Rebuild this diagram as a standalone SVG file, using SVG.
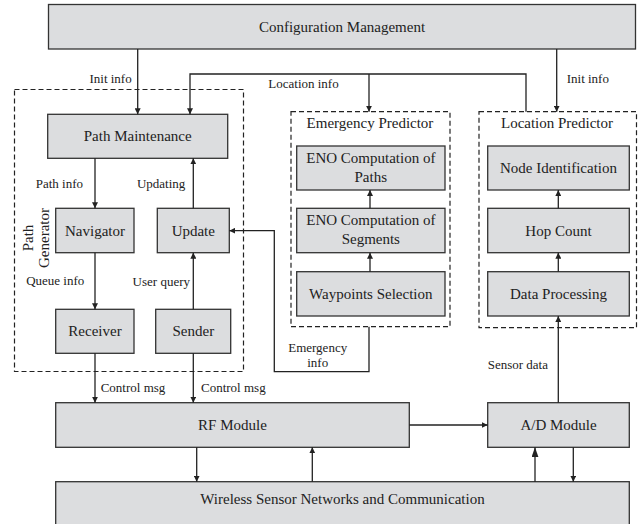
<svg xmlns="http://www.w3.org/2000/svg" width="639" height="524" viewBox="0 0 639 524">
<defs>
<marker id="ah" viewBox="0 0 10 10" refX="10" refY="5" markerWidth="6" markerHeight="6" markerUnits="userSpaceOnUse" orient="auto">
<path d="M0,0 L10,5 L0,10 z" fill="#222"/>
</marker>
<marker id="ahb" viewBox="0 0 10 10" refX="10" refY="5" markerWidth="10" markerHeight="7" markerUnits="userSpaceOnUse" orient="auto" preserveAspectRatio="none">
<path d="M0,0 L10,5 L0,10 z" fill="#222"/>
</marker>
<style>
.box{fill:#dcdddf;stroke:#333;stroke-width:1.3}
.dash{fill:none;stroke:#222;stroke-width:1.2;stroke-dasharray:5,3}
.t{font-family:"Liberation Serif","Times New Roman",serif;font-size:15px;fill:#222;text-anchor:middle}
.l{font-family:"Liberation Serif","Times New Roman",serif;font-size:13px;fill:#222}
.c{fill:none;stroke:#222;stroke-width:1.3}
.a{marker-end:url(#ah)}
</style>
</defs>
<rect width="639" height="524" fill="#fff"/>

<g id="path-generator">
<rect class="dash" x="14.5" y="89.5" width="229" height="282"/>
<text class="t" transform="translate(32.5,238) rotate(-90)">Path</text>
<text class="t" transform="translate(49,238) rotate(-90)">Generator</text>
</g>
<g id="emergency-predictor">
<rect class="dash" x="291" y="111.7" width="159" height="215"/>
<text class="t" x="370" y="128">Emergency Predictor</text>
</g>
<g id="location-predictor">
<rect class="dash" x="479" y="111.7" width="157.5" height="216"/>
<text class="t" x="557" y="128">Location Predictor</text>
</g>

<g id="config">
<rect class="box" x="48.5" y="4.5" width="587" height="44.5"/>
<text class="t" x="342" y="32">Configuration Management</text>
</g>
<g id="path-maintenance">
<rect class="box" x="47.7" y="114.3" width="180" height="44"/>
<text class="t" x="137.7" y="141">Path Maintenance</text>
</g>
<g id="navigator">
<rect class="box" x="55.7" y="208.3" width="78.3" height="44.4"/>
<text class="t" x="95" y="235.5">Navigator</text>
</g>
<g id="update">
<rect class="box" x="157.3" y="208.3" width="72" height="44.4"/>
<text class="t" x="193.3" y="235.5">Update</text>
</g>
<g id="receiver">
<rect class="box" x="55.7" y="309.3" width="78.3" height="44"/>
<text class="t" x="95" y="336">Receiver</text>
</g>
<g id="sender">
<rect class="box" x="155.7" y="309.3" width="75" height="44"/>
<text class="t" x="193.3" y="336">Sender</text>
</g>
<g id="eno-paths">
<rect class="box" x="296.7" y="146" width="148.3" height="44"/>
<text class="t" x="370.8" y="162.5">ENO Computation of</text>
<text class="t" x="370.8" y="181.5">Paths</text>
</g>
<g id="eno-segments">
<rect class="box" x="296.7" y="208.3" width="148.3" height="44.4"/>
<text class="t" x="370.8" y="225">ENO Computation of</text>
<text class="t" x="370.8" y="244">Segments</text>
</g>
<g id="waypoints">
<rect class="box" x="296.7" y="271.7" width="148.3" height="44.3"/>
<text class="t" x="370.8" y="298.5">Waypoints Selection</text>
</g>
<g id="node-identification">
<rect class="box" x="487.7" y="146" width="141.6" height="44"/>
<text class="t" x="558.5" y="172.5">Node Identification</text>
</g>
<g id="hop-count">
<rect class="box" x="487.7" y="208.3" width="141.6" height="44.4"/>
<text class="t" x="558.5" y="235.5">Hop Count</text>
</g>
<g id="data-processing">
<rect class="box" x="487.7" y="271.7" width="141.6" height="44.3"/>
<text class="t" x="558.5" y="298.5">Data Processing</text>
</g>
<g id="rf-module">
<rect class="box" x="55.7" y="402.7" width="353.6" height="44.6"/>
<text class="t" x="232.5" y="430">RF Module</text>
</g>
<g id="ad-module">
<rect class="box" x="487.7" y="402.7" width="141.6" height="44.6"/>
<text class="t" x="558.5" y="430">A/D Module</text>
</g>
<g id="wsn">
<rect class="box" x="55.7" y="481.7" width="573.6" height="46"/>
<text class="t" x="342.5" y="504">Wireless Sensor Networks and Communication</text>
</g>

<g id="connectors">
<line class="c a" x1="137.7" y1="49" x2="137.7" y2="114.3"/>
<line class="c a" x1="556.7" y1="49" x2="556.7" y2="111.7"/>
<polyline class="c a" points="526,111.7 526,74 190,74 190,114.3"/>
<line class="c a" x1="369" y1="74" x2="369" y2="111.7"/>
<line class="c a" x1="95" y1="158.3" x2="95" y2="208.3"/>
<line class="c a" x1="193.3" y1="208.3" x2="193.3" y2="158.3"/>
<line class="c a" x1="95" y1="252.7" x2="95" y2="309.3"/>
<line class="c a" x1="193.3" y1="309.3" x2="193.3" y2="252.7"/>
<polyline class="c a" points="369,326.7 369,371.7 274.3,371.7 274.3,230.7 229.3,230.7"/>
<line class="c a" x1="370" y1="208.3" x2="370" y2="190"/>
<line class="c a" x1="370" y1="271.7" x2="370" y2="252.7"/>
<line class="c a" x1="558.3" y1="208.3" x2="558.3" y2="190"/>
<line class="c a" x1="558.3" y1="271.7" x2="558.3" y2="252.7"/>
<line class="c a" x1="558.3" y1="402.7" x2="558.3" y2="316"/>
<line class="c a" x1="95" y1="353.3" x2="95" y2="402.7"/>
<line class="c a" x1="193.3" y1="353.3" x2="193.3" y2="402.7"/>
<line class="c a" x1="409.3" y1="425" x2="487.7" y2="425"/>
<line class="c a" x1="196.7" y1="447.3" x2="196.7" y2="481.7"/>
<line class="c a" x1="312.3" y1="481.7" x2="312.3" y2="447.3"/>
<line class="c" x1="535" y1="481.7" x2="535" y2="447.3" marker-end="url(#ahb)"/>
<line class="c a" x1="573.3" y1="447.3" x2="573.3" y2="481.7"/>
</g>

<g id="labels">
<text class="l" x="131.7" y="83" text-anchor="end">Init info</text>
<text class="l" x="566.7" y="83">Init info</text>
<text class="l" x="268.3" y="88">Location info</text>
<text class="l" x="83" y="188" text-anchor="end">Path info</text>
<text class="l" x="185.3" y="187.5" text-anchor="end">Updating</text>
<text class="l" x="84.3" y="285" text-anchor="end">Queue info</text>
<text class="l" x="190" y="286" text-anchor="end">User query</text>
<text class="l" x="317.7" y="351.7" text-anchor="middle">Emergency</text>
<text class="l" x="317.7" y="366.7" text-anchor="middle">info</text>
<text class="l" x="100.7" y="391.7">Control msg</text>
<text class="l" x="201" y="391.7">Control msg</text>
<text class="l" x="487.7" y="369.3">Sensor data</text>
</g>
</svg>
